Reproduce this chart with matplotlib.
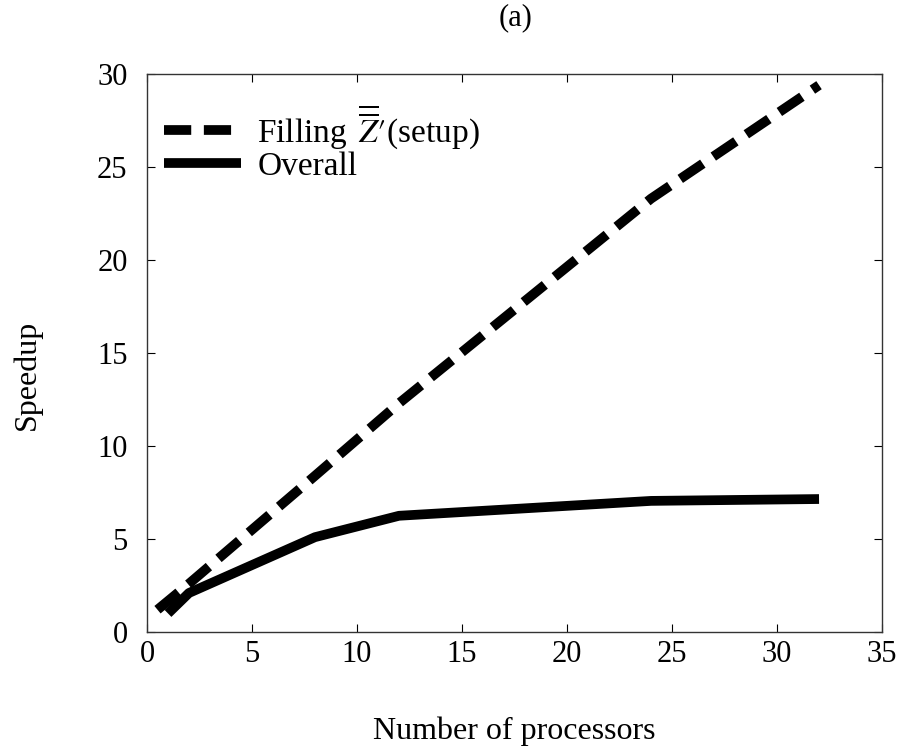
import matplotlib.pyplot as plt

# speedup vs processor count
procs_fill = [0.5, 2, 8, 12, 24, 32]
speedup_fill = [1.2, 2.6, 8.4, 12.3, 23.3, 29.4]
procs_all = [1, 2, 8, 12, 24, 32]
speedup_all = [1.0, 2.1, 5.1, 6.25, 7.05, 7.15]

plt.rcParams['font.family'] = ['Liberation Serif', 'DejaVu Serif']
plt.rcParams['mathtext.fontset'] = 'stix'

fig = plt.figure(figsize=(9.04, 7.5), dpi=100)
ax = fig.add_axes([0.1626, 0.1573, 0.8131, 0.7440])

ax.plot(procs_fill, speedup_fill, color='black', lw=7, linestyle=(0, (2.8, 1.3)),
        solid_capstyle='butt', dash_capstyle='butt',
        label=r"Filling $\,\overline{\overline{Z}}\prime$(setup)")
ax.plot(procs_all, speedup_all, color='black', lw=7, solid_capstyle='butt',
        label='Overall')

ax.set_xlim(0, 35)
ax.set_ylim(0, 30)
ax.set_xticks(range(0, 36, 5))
ax.set_yticks(range(0, 31, 5))
ax.tick_params(direction='in', top=True, right=True, labelsize=22, length=6, width=0.8)
ax.tick_params(axis='x', pad=6)
ax.tick_params(axis='y', pad=14)
for s in ax.spines.values():
    s.set_linewidth(1.0)
    s.set_color('#333333')

ax.set_xlabel('Number of processors', fontsize=23, labelpad=34)
ax.set_ylabel('Speedup', fontsize=23)
ax.yaxis.set_label_coords(-0.143, 0.461)
fig.text(0.57, 0.976, '(a)', ha='center', va='center', fontsize=22)

ax.legend(loc='upper left', frameon=False, fontsize=24, handlelength=2.3,
          handletextpad=0.5, labelspacing=0.0, borderaxespad=0.4,
          bbox_to_anchor=(-0.013, 0.997))

fig.savefig('out.png', dpi=100)
